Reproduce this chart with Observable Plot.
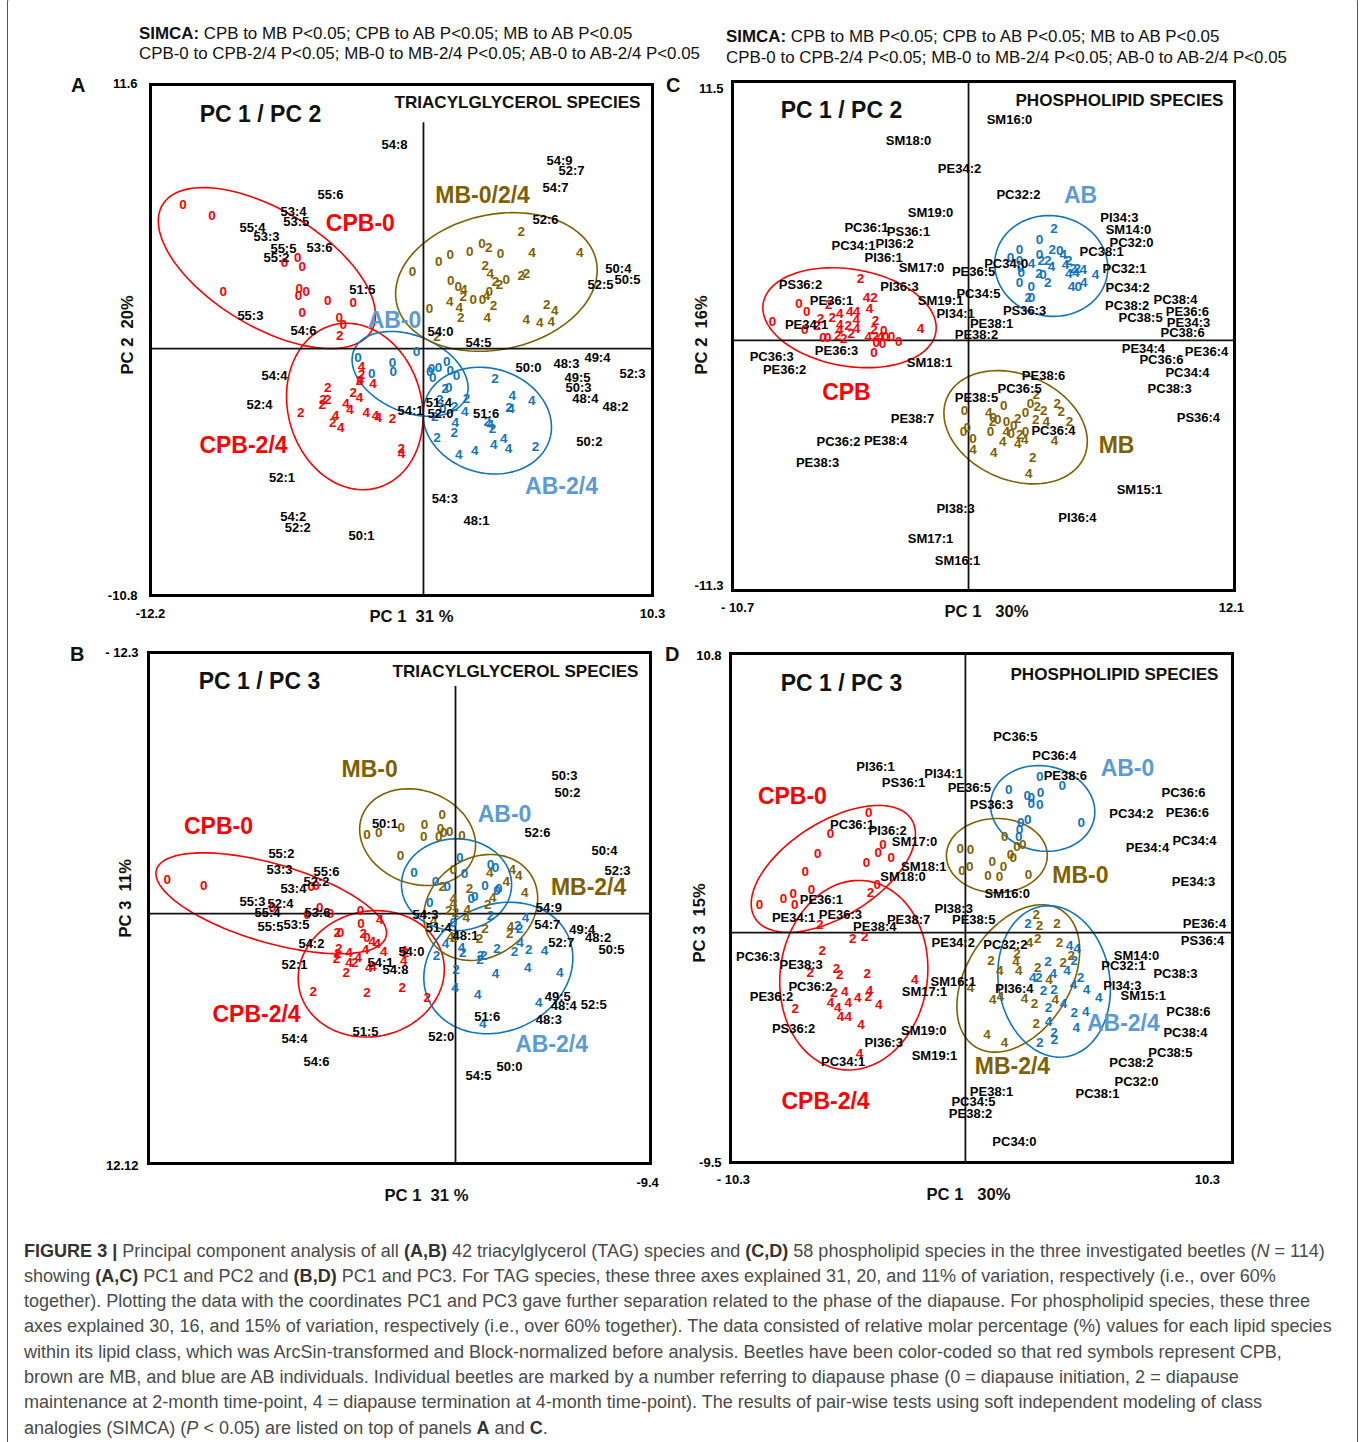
<!DOCTYPE html>
<html><head><meta charset="utf-8">
<script src="https://cdn.jsdelivr.net/npm/d3@7"></script>
<script src="https://cdn.jsdelivr.net/npm/@observablehq/plot@0.6"></script>
<style>
html,body{margin:0;padding:0;background:#fff;font-family:"Liberation Sans",Arial,sans-serif;overflow:hidden}
#page{position:relative;width:1360px;height:1442px;overflow:hidden}
#border{position:absolute;left:7px;top:-6px;width:1351px;height:1470px;border:1px solid #555;border-radius:8px;box-sizing:border-box}
.simca{position:absolute;font-size:16.9px;color:#111;white-space:nowrap}
.letter{position:absolute;font-size:20px;font-weight:bold;color:#111}
#caption{position:absolute;left:24px;top:1238.5px;width:1320px;font-size:18.05px;line-height:25.3px;color:#4a4a4a;white-space:nowrap}
#caption b{color:#333}
.panel{position:absolute}
</style></head><body>
<div id="page">
<div id="border"></div>
<div class="simca" style="left:139px;top:24px;line-height:20px"><b>SIMCA:</b> CPB to MB P&lt;0.05; CPB to AB P&lt;0.05; MB to AB P&lt;0.05<br>CPB-0 to CPB-2/4 P&lt;0.05; MB-0 to MB-2/4 P&lt;0.05; AB-0 to AB-2/4 P&lt;0.05</div>
<div class="simca" style="left:726px;top:26px;line-height:21px"><b>SIMCA:</b> CPB to MB P&lt;0.05; CPB to AB P&lt;0.05; MB to AB P&lt;0.05<br>CPB-0 to CPB-2/4 P&lt;0.05; MB-0 to MB-2/4 P&lt;0.05; AB-0 to AB-2/4 P&lt;0.05</div>
<div class="letter" style="left:71px;top:74px">A</div>
<div class="letter" style="left:70px;top:643px">B</div>
<div class="letter" style="left:666px;top:74px">C</div>
<div class="letter" style="left:665px;top:643px">D</div>
<div id="caption"><b>FIGURE 3 |</b> Principal component analysis of all <b>(A,B)</b> 42 triacylglycerol (TAG) species and <b>(C,D)</b> 58 phospholipid species in the three investigated beetles (<i>N</i> = 114)<br>showing <b>(A,C)</b> PC1 and PC2 and <b>(B,D)</b> PC1 and PC3. For TAG species, these three axes explained 31, 20, and 11% of variation, respectively (i.e., over 60%<br>together). Plotting the data with the coordinates PC1 and PC3 gave further separation related to the phase of the diapause. For phospholipid species, these three<br>axes explained 30, 16, and 15% of variation, respectively (i.e., over 60% together). The data consisted of relative molar percentage (%) values for each lipid species<br>within its lipid class, which was ArcSin-transformed and Block-normalized before analysis. Beetles have been color-coded so that red symbols represent CPB,<br>brown are MB, and blue are AB individuals. Individual beetles are marked by a number referring to diapause phase (0 = diapause initiation, 2 = diapause<br>maintenance at 2-month time-point, 4 = diapause termination at 4-month time-point). The results of pair-wise tests using soft independent modeling of class<br>analogies (SIMCA) (<i>P</i> &lt; 0.05) are listed on top of panels <b>A</b> and <b>C</b>.</div>
</div>
<script>
// ---------- Panel A: TAG, PC1 / PC2. Scores are [phase, PC1, PC2]
const aCPB=[[0,-10.78,6.3],[0,-9.48,5.83],[0,-6.23,3.76],[0,-5.64,4],[0,-5.44,3.57],[0,-8.98,2.5],[0,-5.57,2.64],[0,-5.6,2.32],[0,-5.26,2.5],[0,-4.29,2.1],[0,-3.15,2],[0,-5.44,1.57],[0,-3.78,1.35],[0,-3.6,1.04],[2,-3.75,.57],
[4,-2.78,-.78],[2,-2.78,-1.14],[4,-2.83,-1.36],[2,-2.87,-1.4],[4,-2.26,-1.52],[2,-4.29,-1.72],[2,-4.29,-2.24],[2,-4.5,-2.24],[2,-4.54,-2.46],[2,-3.15,-1.94],[4,-2.87,-2.16],[4,-3.47,-2.4],[4,-3.29,-2.68],[4,-2.57,-2.82],[4,-2.15,-2.94],[4,-2.03,-3.01],[2,-1.39,-3.06],[2,-5.5,-2.82],[4,-3.95,-2.94],[2,-4.07,-3.23],[4,-3.71,-3.48],[2,-1,-4.4],[4,-.99,-4.59]];
const aAB=[[0,-.31,-.12],[0,-2.93,-.41],[0,-1.39,-.61],[0,-1.36,-1],[0,-2.32,-1.11],[0,1.04,-.56],[0,.67,-.82],[0,.36,-.89],[0,.28,-1],[0,.42,-1.26],[0,1.2,-.96],[0,1.48,-1.17],[2,.96,-1.77],[0,1.13,-1.72],[2,.73,-2.24],[2,1.93,-2.21],[4,1.85,-2.75],[2,1.39,-2.57],[0,.87,-2.65],[2,.51,-2.97],[2,3.21,-1.33],[4,3.98,-2.06],[4,4.86,-2.29],[2,3.83,-2.6],[4,3.93,-2.62],[2,2.86,-3.19],[4,3,-3.33],[2,3.09,-3.52],[4,1.43,-3.26],[2,1.38,-3.7],[2,.61,-3.89],[4,1.58,-4.65],[4,2.3,-4.46],[4,3.15,-4.2],[4,3.6,-3.95],[4,3.81,-4.4],[2,5.02,-4.29]];
const aMB=[[2,4.38,5.14],[4,4.87,4.22],[4,7.01,4.21],[0,2.62,4.62],[2,2.93,4.42],[0,3.45,4.18],[0,2.08,4.24],[0,1.2,4.12],[0,.69,3.8],[0,-.49,3.39],[2,2.77,3.63],[4,3,3.28],[2,3.23,2.95],[2,3.41,2.78],[0,3.71,3],[2,4.38,3.19],[2,4.62,3.3],[0,1.22,2.97],[0,1.56,2.73],[4,1.81,2.57],[2,1.78,2.29],[0,2.23,2.16],[0,2.65,2.15],[4,2.83,2.32],[0,2.95,2.51],[2,3.14,1.87],[4,1.18,2.06],[0,.27,1.75],[4,1.61,1.81],[2,1.67,1.37],[4,2.86,1.35],[2,5.53,1.94],[4,5.89,1.67],[4,4.61,1.27],[4,5.21,1.13],[4,5.73,1.2],[2,.61,.5]];
const aSpecies=[["54:8",-1.3,8.95],["54:9",6.1,8.25],["52:7",6.64,7.81],["54:7",5.92,7.06],["52:6",5.47,5.66],["55:6",-4.17,6.75],["53:4",-5.83,6],["53:5",-5.7,5.57],["55:4",-7.67,5.31],["53:3",-7.04,4.91],["55:5",-6.28,4.39],["53:6",-4.66,4.43],["55:2",-6.59,3.99],["51:5",-2.74,2.59],["55:3",-7.76,1.45],["54:6",-5.38,.79],["54:0",.76,.75],["54:5",2.47,.26],["50:4",8.74,3.51],["50:5",9.15,3.03],["52:5",7.94,2.81],["50:0",4.71,-.83],["48:3",6.41,-.66],["49:4",7.8,-.39],["49:5",6.91,-1.27],["50:3",6.95,-1.71],["48:4",7.26,-2.19],["52:3",9.37,-1.1],["48:2",8.61,-2.54],["50:2",7.44,-4.08],["54:4",-6.68,-1.18],["52:4",-7.35,-2.46],["54:1",-.58,-2.72],["51:4",.69,-2.36],["52:0",.76,-2.88],["51:6",2.81,-2.86],["52:1",-6.34,-5.67],["54:3",.96,-6.57],["48:1",2.38,-7.54],["54:2",-5.84,-7.4],["52:2",-5.64,-7.86],["50:1",-2.78,-8.2]];
const aGroups=[["MB-0/2/4",2.65,6.71,"MB"],["CPB-0",-2.83,5.48,"CPB"],["AB-0",-1.3,1.23,"ABL"],["CPB-2/4",-8.07,-4.25,"CPB"],["AB-2/4",6.19,-6.05,"ABL"]];
const aEllipses=[["CPB",-7.02,3.53,4.87,3.53,-.585],["CPB",-3.08,-2.54,3.06,3.65,-.12],["AB",-.6,-1.11,2.6,1.86,-.33],["AB",2.86,-3.16,2.88,2.34,-.12],["MB",3.27,2.92,4.52,3.04,.17]];

// ---------- Panel B: TAG, PC1 / PC3 (both axes as labelled on the picture)
const bCPB=[[0,13.93,-1.61],[0,12.16,-1.34],[0,6.97,-1.29],[0,6.73,-1.34],[0,8.84,-.3],[0,6.56,-.27],[0,7.16,.05],[0,6.04,-.01],[0,4.59,-.14],[4,3.66,.29],[0,4.57,.49],[2,5.71,.89],[0,5.56,.92],[2,4.46,.97],[0,4.27,1.16],[4,4.02,1.34],[4,3.78,1.45],[2,5.64,1.69],[4,4.35,1.72],[4,3.46,1.8],[4,5.15,1.85],[2,5.69,1.93],[2,5.75,2.16],[4,4.7,2.12],[4,5.15,2.36],[2,4.86,2.37],[2,5.28,2.82],[4,4.19,2.6],[4,3.98,2.53],[4,2.5,1.77],[4,2.5,2.25],[2,2.42,1.85],[2,6.87,3.73],[2,4.27,3.79],[2,2.57,3.52],[2,1.37,4.03]];
const bMB=[[0,4.27,-3.77],[0,3.71,-3.86],[0,2.62,-4.08],[0,2.66,-2.77],[0,1.5,-4.25],[0,1.53,-3.69],[0,.64,-4.73],[0,.72,-4.05],[0,.81,-3.69],[0,.57,-3.88],[0,.28,-3.93],[0,-.32,-3.73],[0,.11,-2.09],[4,-1.66,-1.94],[4,-2.74,-2.09],[4,-3.06,-1.82],[4,-2.45,-1.53],[4,-3.35,-.99],[2,.64,-1.29],[2,-.68,-1.18],[4,-1.8,-.75],[2,-1.56,-.42],[4,.11,-.7],[4,.11,-.46],[2,.32,-.14],[2,0,-.06],[4,-.57,-.19],[4,-.52,.21],[2,-1.42,.73],[2,-1.16,1.21],[4,-2.66,.65],[2,-2.62,.94],[4,.24,1.1],[2,.08,1.13],[4,1.05,.33]];
const bAB=[[0,-.21,-2.66],[0,-.43,-1.9],[0,-1.69,-2.33],[0,-1.93,-2.18],[0,2.01,-1.97],[0,.97,-1.54],[0,.4,-1.29],[0,-1.42,-1.34],[0,-2.09,-1.18],[0,-2.01,-1.1],[0,-.93,-.83],[0,-.76,-.7],[0,1.24,-.54],[0,.11,.42],[2,-1.69,.1],[4,-3.38,.22],[2,-3.01,.57],[2,-3.09,.73],[4,.48,1.45],[4,-3.11,1.37],[2,.92,2.01],[4,-.29,1.64],[2,-.35,1.85],[2,-2.01,1.66],[2,-2.85,1.82],[2,-3.54,1.72],[4,-4.3,1.77],[2,-1.21,2.01],[2,-1.37,2.01],[2,-1.18,2.2],[2,-.03,2.69],[4,-1.93,2.88],[4,-3.49,2.59],[4,-5.04,2.83],[4,.03,3.52],[4,-1.08,3.87],[4,-4.02,4.24],[4,-1.32,5.27]];
const bSpecies=[["50:3",-5.27,-6.59],["50:2",-5.41,-5.78],["52:6",-3.96,-3.87],["50:4",-7.2,-3.01],["52:3",-7.83,-2.05],["50:1",3.41,-4.29],["55:2",8.41,-2.87],["53:3",8.5,-2.1],["55:6",6.23,-2.01],["52:2",6.71,-1.53],["53:4",7.83,-1.19],["55:3",9.81,-.57],["52:4",8.45,-.48],["55:4",9.08,-.05],["53:6",6.67,-.05],["55:5",8.94,.62],["53:5",7.68,.53],["54:2",6.96,1.43],["52:1",7.78,2.44],["54:0",2.13,1.82],["54:1",3.62,2.36],["54:8",2.9,2.68],["54:4",7.78,5.97],["51:5",4.35,5.64],["54:6",6.71,7.07],["54:3",1.45,.06],["51:4",.81,.68],["48:1",-.48,1.05],["54:9",-4.51,-.27],["54:7",-4.43,.53],["52:7",-5.11,1.42],["49:4",-6.12,.76],["48:2",-6.89,1.18],["50:5",-7.54,1.72],["49:5",-4.94,3.97],["48:4",-5.23,4.4],["52:5",-6.68,4.35],["48:3",-4.51,5.08],["51:6",-1.53,4.92],["52:0",.69,5.88],["54:5",-1.11,7.74],["50:0",-2.61,7.31]];
const bGroups=[["MB-0",4.15,-6.88,"MB"],["AB-0",-2.37,-4.73,"ABL"],["CPB-0",11.45,-4.16,"CPB"],["MB-2/4",-6.43,-1.24,"MB"],["CPB-2/4",9.61,4.83,"CPB"],["AB-2/4",-4.64,6.26,"ABL"]];
const bEllipses=[["CPB",8.9,-.49,5.57,2.41,-.59],["CPB",4.07,2.88,3.53,3.02,.07],["MB",1.83,-3.65,2.8,2.31,-.16],["AB",-.05,-1.38,2.66,2.19,0],["MB",-1.22,-.29,2.75,2.53,.17],["AB",-2.07,2.6,3.6,3.14,.15]];

// ---------- Panel C: phospholipids, PC1 / PC2
const cCPB=[[2,-4.91,2.77],[4,-4.64,1.94],[2,-4.3,1.94],[4,-4.5,1.42],[0,-7.71,1.67],[2,-6.35,1.61],[0,-7.36,1.29],[4,-5.4,1.3],[4,-5.09,1.3],[4,-5.86,1.2],[2,-6.2,1.02],[0,-8.91,.82],[2,-6.73,.97],[4,-5.1,.93],[2,-4.23,.87],[0,-7.45,.49],[2,-6.88,.67],[4,-5.86,.72],[2,-5.47,.67],[4,-5.09,.55],[2,-4.3,.49],[4,-5.86,.48],[2,-5.33,.3],[0,-6.62,.12],[0,-6.4,.12],[2,-5.94,.22],[2,-5.67,.1],[0,-3.85,.42],[4,-4.56,.15],[2,-4.23,.15],[4,-4,.15],[0,-3.77,.15],[0,-3.5,.15],[0,-3.17,-.04],[0,-4.2,-.1],[0,-3.91,-.15],[0,-4.3,-.55],[4,-2.18,.52]];
const cAB=[[2,3.88,5.01],[0,3.23,4.53],[0,2.32,4.08],[2,3.8,4.07],[0,4.15,4.04],[0,3.23,3.86],[4,4.3,3.86],[2,4.56,3.56],[0,1.91,3.71],[0,2.32,3.56],[4,2.86,3.44],[2,3.3,3.56],[2,3.6,3.56],[4,3.77,3.32],[4,4.41,3.41],[2,4.94,3.22],[4,5.21,3.17],[2,4.76,3.22],[4,4.56,2.99],[4,4.88,3.02],[0,2.4,3.06],[0,2.36,3.26],[2,3.2,2.99],[0,3.38,2.95],[2,3.6,2.59],[0,2.32,2.57],[4,5.77,2.95],[4,5.24,2.6],[4,4.68,2.39],[0,4.99,2.42],[0,2.85,2.39],[2,2.71,1.9],[0,2.86,1.9]];
const cMB=[[2,3.08,-2.44],[0,1.6,-2.91],[0,2.82,-2.84],[2,3.12,-2.96],[0,-.18,-3.14],[4,.92,-3.22],[2,3.42,-3.17],[2,4.03,-2.84],[2,4.21,-3.18],[0,2.59,-3.22],[2,2.24,-3.51],[2,3.05,-3.56],[4,3.53,-3.62],[2,4.59,-3.62],[0,1.12,-3.44],[2,1.09,-3.62],[0,1.33,-3.56],[0,1.73,-3.62],[0,2.06,-3.81],[0,-.06,-3.89],[0,-.23,-4.07],[0,1,-4.11],[4,1.71,-4.11],[0,1.94,-4.18],[2,2.33,-4.22],[0,2.59,-4.11],[4,2.55,-4.45],[4,2.24,-4.63],[4,1.55,-4.53],[4,3.91,-4.48],[0,.2,-4.41],[4,.2,-4.9],[4,1.15,-5.05],[2,2.92,-5.26],[4,2.74,-5.98]];
const cSpecies=[["SM16:0",1.86,9.87],["SM18:0",-2.73,8.97],["PE34:2",-.41,7.71],["PC32:2",2.27,6.55],["SM19:0",-1.73,5.7],["PC36:1",-4.64,5.07],["PS36:1",-2.73,4.89],["PC34:1",-5.23,4.26],["PI36:2",-3.36,4.35],["PI36:1",-3.86,3.72],["SM17:0",-2.14,3.27],["PE36:5",.23,3.09],["PS36:2",-7.64,2.51],["PI36:3",-3.14,2.42],["PE36:1",-6.23,1.79],["SM19:1",-1.27,1.79],["PC34:0",1.71,3.44],["PC34:5",.45,2.11],["PS36:3",2.55,1.35],["PI34:1",-.59,1.21],["PE34:1",-7.36,.72],["PE38:1",1.05,.76],["PE38:2",.36,.27],["PE36:3",-6,-.45],["PC36:3",-8.95,-.72],["PE36:2",-8.36,-1.3],["SM18:1",-1.77,-.99],["PI34:3",6.86,5.52],["SM14:0",7.27,4.98],["PC32:0",7.41,4.39],["PC38:1",6.05,3.99],["PC32:1",7.09,3.23],["PC34:2",7.23,2.38],["PC38:2",7.21,1.54],["PC38:4",9.41,1.84],["PE36:6",9.95,1.3],["PC38:5",7.82,1.03],["PE34:3",10,.81],["PC38:6",9.73,.36],["PE34:4",7.95,-.36],["PE36:4",10.82,-.49],["PC36:6",8.77,-.85],["PC34:4",9.95,-1.43],["PC38:3",9.14,-2.15],["PS36:4",10.45,-3.45],["PE38:6",3.41,-1.57],["PC36:5",2.32,-2.15],["PE38:5",.36,-2.56],["PE38:7",-2.55,-3.5],["PC36:2",-5.91,-4.53],["PE38:4",-3.77,-4.48],["PE38:3",-6.86,-5.47],["PC36:4",3.86,-4.04],["SM15:1",7.77,-6.68],["PI38:3",-.59,-7.53],["PI36:4",4.95,-7.94],["SM17:1",-1.73,-8.88],["SM16:1",-.5,-9.87]];
const cGroups=[["AB",5.09,6.5,"ABL"],["CPB",-5.55,-2.33,"CPB"],["MB",6.73,-4.71,"MB"]];
const cEllipses=[["CPB",-5.41,1.02,3.94,2.24,-.2],["AB",3.76,3.34,2.57,2.26,-.04],["MB",2.14,-3.89,3.26,2.54,-.25]];

// ---------- Panel D: phospholipids, PC1 / PC3
const dCPB=[[0,-3.97,4.77],[0,-5.54,3.94],[0,-3.38,3.5],[0,-3.58,3.2],[0,-3.04,3],[0,-6.06,3.14],[0,-4.06,2.78],[0,-6.57,2.43],[0,-3.62,1.91],[0,-6.32,1.72],[2,-3.9,1.58],[0,-7.07,1.54],[0,-7.46,1.37],[0,-8.45,1.12],[0,-7,1.12],[2,-5.98,.31],[2,-4.62,-.23],[2,-4.13,-.15],[2,-5.88,-.72],[2,-6.37,-1.58],[2,-5.29,-1.45],[2,-5.16,-1.69],[2,-4.03,-1.65],[4,-2.08,-1.87],[4,-3.94,-2.31],[2,-3.99,-2.55],[2,-5.39,-2.38],[4,-4.95,-2.35],[4,-5.54,-2.8],[4,-4.81,-2.78],[4,-4.42,-2.6],[4,-3.56,-2.88],[4,-5.24,-3],[2,-6.98,-3.04],[4,-5.13,-3.35],[4,-4.81,-3.35],[4,-4.28,-3.66],[4,-4.35,-4.84]];
const dAB=[[0,3.05,6.22],[0,3.97,5.86],[0,1.78,5.69],[0,3.08,5.57],[0,2.54,5.44],[0,2.7,5.4],[0,2.7,5.16],[0,3.05,5.11],[0,2.56,4.5],[0,2.27,4.4],[0,4.75,4.38],[0,2.22,4.1],[0,2.19,3.83],[2,2.57,.35],[4,4.27,-.52],[4,4.58,-.65],[2,4.47,-1.12],[2,3.39,-1.16],[4,4.17,-1.52],[4,3.6,-1.65],[2,4.72,-1.81],[4,2.76,-1.78],[2,3.01,-1.78],[4,4.44,-2.07],[2,3.64,-2.27],[2,3.2,-2.31],[4,4.97,-2.27],[4,5.47,-2.6],[4,4.03,-2.84],[2,3.41,-2.98],[2,4.47,-3.2],[4,4.94,-3.14],[4,3.41,-3.54],[4,4.55,-3.8],[2,3.64,-4],[2,3.66,-4.28],[2,3.05,-4.41]];
const dMB=[[0,1.61,3.84],[0,2.12,3.44],[0,2.35,3.51],[0,1.85,3.1],[0,1.96,2.98],[0,-.21,3.34],[0,.21,3.31],[0,1.1,2.84],[0,.18,2.64],[0,-.14,2.45],[0,.93,2.25],[0,2.59,2.31],[0,1.4,2.23],[0,1.56,2.63],[2,2.91,.72],[2,3.04,.28],[2,3.76,.35],[2,2.97,-.23],[4,2.63,-.39],[2,3.86,-.39],[2,1.05,-1.14],[2,2.12,-.85],[4,2.08,-1.18],[4,1.41,-1.52],[4,2.19,-1.52],[2,2.97,-1.41],[2,4.01,-1.22],[2,4.34,-.92],[4,3.43,-1.89],[4,.21,-2.18],[4,1.12,-2.67],[4,1.44,-2.55],[4,2.42,-2.64],[2,2.83,-2.82],[4,3.69,-2.68],[2,2.91,-3.64],[4,.89,-4.08],[4,1.6,-4.41]];
const dSpecies=[["PC36:5",2.05,7.82],["PC36:4",3.65,7.06],["PE38:6",4.1,6.26],["PI36:1",-3.69,6.62],["PS36:1",-2.54,5.98],["PI34:1",-.9,6.34],["PE36:5",.16,5.78],["PS36:3",1.07,5.11],["PC36:6",8.95,5.58],["PC34:2",6.81,4.75],["PE36:6",9.11,4.79],["PE34:4",7.47,3.39],["PC34:4",9.4,3.67],["PE34:3",9.36,2.03],["PC36:1",-4.65,4.3],["PI36:2",-3.19,4.06],["SM17:0",-2.09,3.6],["SM18:1",-1.71,2.64],["SM18:0",-2.56,2.23],["SM16:0",1.72,1.56],["PE36:1",-5.91,1.32],["PE34:1",-7.05,.57],["PE36:3",-5.13,.69],["PE38:4",-3.72,.21],["PE38:7",-2.33,.52],["PI38:3",-.48,.96],["PE38:5",.34,.52],["PE34:2",-.5,-.41],["PC32:2",1.64,-.48],["PC36:3",-8.51,-.95],["PE38:3",-6.74,-1.28],["SM14:0",7.02,-.92],["PC32:1",6.48,-1.32],["PC38:3",8.62,-1.64],["PE36:4",9.81,.36],["PS36:4",9.73,-.32],["PC36:2",-6.36,-2.15],["PE36:2",-7.96,-2.55],["SM16:1",-.5,-1.95],["SM17:1",-1.68,-2.37],["PI36:4",2.01,-2.23],["PI34:3",6.44,-2.11],["SM15:1",7.3,-2.51],["PC38:6",9.15,-3.15],["PC38:4",9.03,-3.99],["PS36:2",-7.05,-3.84],["SM19:0",-1.71,-3.91],["PI36:3",-3.35,-4.39],["PC34:1",-5.02,-5.15],["SM19:1",-1.27,-4.92],["PC38:5",8.41,-4.79],["PC38:2",6.81,-5.19],["PC32:0",7.02,-5.94],["PC38:1",5.42,-6.42],["PE38:1",1.07,-6.34],["PC34:5",.33,-6.74],["PE38:2",.21,-7.22],["PC34:0",2.01,-8.34]];
const dGroups=[["CPB-0",-7.1,5.42,"CPB"],["AB-0",6.65,6.54,"ABL"],["MB-0",4.72,2.27,"MB"],["AB-2/4",6.48,-3.63,"ABL"],["MB-2/4",1.93,-5.35,"MB"],["CPB-2/4",-5.74,-6.74,"CPB"]];
const dEllipses=[["CPB",-5.42,2.54,3.37,2.53,.55],["CPB",-4.58,-1.7,3.04,3.78,.07],["AB",3.17,4.95,2.14,1.71,-.08],["MB",1.29,3.07,2.07,1.48,0],["MB",2.17,-1.83,2.52,2.94,.38],["AB",3.64,-1.95,2.31,3.02,-.1]];

const ink={CPB:"#ff0000",MB:"#7f6000",AB:"#0f75bd",ABL:"#5b9bd5"};
const FONT='"Liberation Sans",Arial,sans-serif';

function ellipsePath(e,i){
  const [g,cx,cy,hx,hy,r]=e, out=[], q=Math.sqrt(1-r*r);
  for(let k=0;k<=120;k++){const t=k/120*2*Math.PI;
    out.push({id:i,g,x:cx+hx*Math.cos(t),y:cy+hy*(r*Math.cos(t)+q*Math.sin(t))});}
  return out;
}
const digits=(arr,g)=>arr.map(d=>({g,t:String(d[0]),x:d[1],y:d[2]}));

function panel(o){
  const scores=[...digits(o.cpb,"CPB"),...digits(o.mb,"MB"),...digits(o.ab,"AB")];
  const ell=o.ellipses.flatMap(ellipsePath);
  const sp=o.species.map(d=>({t:d[0],x:d[1],y:d[2]}));
  const gr=o.groups.map(d=>({t:d[0],x:d[1],y:d[2],g:d[3]}));
  const mL=70,mR=36,mT=24,mB=50;
  const chart=Plot.plot({
    width:o.w+mL+mR,height:o.h+mT+mB,marginLeft:mL,marginRight:mR,marginTop:mT,marginBottom:mB,
    x:{domain:o.xd},y:{domain:o.yd},color:{type:"identity"},
    style:{background:"transparent",fontFamily:FONT,overflow:"visible"},
    marks:[
      Plot.line(ell,{x:"x",y:"y",z:"id",stroke:d=>ink[d.g],strokeWidth:1.6,curve:"linear"}),
      Plot.ruleX([0],{y1:o.vy[0],y2:o.vy[1],stroke:"#111",strokeWidth:1.8}),
      Plot.ruleY([0],{stroke:"#111",strokeWidth:1.8}),
      Plot.frame({stroke:"#000",strokeWidth:3}),
      Plot.text(scores,{x:"x",y:"y",text:"t",fill:d=>ink[d.g],fontSize:13.5,fontWeight:"bold"}),
      Plot.text(sp,{x:"x",y:"y",text:"t",fill:"#000",fontSize:13,fontWeight:"bold"}),
      Plot.text(gr,{x:"x",y:"y",text:"t",fill:d=>ink[d.g],fontSize:23,fontWeight:"bold"}),
      Plot.axisX(o.xt,{anchor:"bottom",tickSize:0,tickPadding:o.xPad,label:null,fontSize:13,fontWeight:"bold",fill:"#000",tickFormat:d=>o.xl[o.xt.indexOf(d)]}),
      Plot.axisY(o.yt,{anchor:"left",tickSize:0,tickPadding:o.yPad,label:null,fontSize:13,fontWeight:"bold",fill:"#000",tickFormat:d=>o.yl[o.yt.indexOf(d)]}),
      Plot.text([o.title],{frameAnchor:"top-left",dx:o.tp[0],dy:o.tp[1],fontSize:23,fontWeight:"bold",fill:"#111",textAnchor:"middle"}),
      Plot.text([o.kind],{frameAnchor:"top-right",dx:o.kp[0],dy:o.kp[1],fontSize:17.1,fontWeight:"bold",fill:"#111",textAnchor:"end"}),
      Plot.text([o.xLab],{frameAnchor:"bottom-left",dx:o.xp[0],dy:o.xp[1],fontSize:16.6,fontWeight:"bold",fill:"#111"}),
      Plot.text([o.yLab],{frameAnchor:"top-left",dx:o.yp[0],dy:o.yp[1],fontSize:16.6,fontWeight:"bold",fill:"#111",rotate:-90})
    ]
  });
  chart.classList.add("panel");
  chart.style.left=(o.left-mL)+"px"; chart.style.top=(o.top-mT)+"px";
  chart.style.maxWidth="none";
  document.getElementById("page").appendChild(chart);
}

const tag="TRIACYLGLYCEROL SPECIES", pl="PHOSPHOLIPID SPECIES";
panel({left:150,top:84,w:502,h:511,xd:[-12.24,10.27],yd:[-10.83,11.58],vy:[-10.83,9.9],
  xt:[-12.24,10.27],xl:["-12.2","10.3"],yt:[11.6,-10.85],yl:["11.6","-10.8"],xPad:13,yPad:13,
  cpb:aCPB,mb:aMB,ab:aAB,species:aSpecies,groups:aGroups,ellipses:aEllipses,
  title:"PC 1 / PC 2",tp:[110,21],kind:tag,kp:[-12,11],xLab:"PC 1\u00a0\u00a031 %",xp:[219,26],yLab:"PC 2\u00a0\u00a020%",yp:[-29,290]});
panel({left:148,top:652,w:502,h:511,xd:[14.83,-9.42],yd:[11.94,-12.47],vy:[11.94,-10.85],
  xt:[-9.28],xl:["-9.4"],yt:[-12.47,12.04],yl:["- 12.3","12.12"],xPad:14,yPad:10,
  cpb:bCPB,mb:bMB,ab:bAB,species:bSpecies,groups:bGroups,ellipses:bEllipses,
  title:"PC 1 / PC 3",tp:[111,20],kind:tag,kp:[-12,12],xLab:"PC 1\u00a0\u00a031 %",xp:[236,37],yLab:"PC 3\u00a0\u00a011%",yp:[-29,285]});
panel({left:732,top:81,w:502,h:509,xd:[-10.73,12.09],yd:[-11.21,11.61],vy:[-11.21,11.61],
  xt:[-10.5,11.95],xl:["- 10.7","12.1"],yt:[11.26,-10.99],yl:["11.5","-11.3"],xPad:12,yPad:9,
  cpb:cCPB,mb:cMB,ab:cAB,species:cSpecies,groups:cGroups,ellipses:cEllipses,
  title:"PC 1 / PC 2",tp:[109,20],kind:pl,kp:[-11,12],xLab:"PC 1\u00a0\u00a0\u00a030%",xp:[212,26],yLab:"PC 2\u00a0\u00a016%",yp:[-37,293]});
panel({left:730,top:653,w:502,h:509,xd:[-9.64,10.96],yd:[-9.17,11.13],vy:[-9.17,11.13],
  xt:[-9.52,9.93],xl:["- 10.3","10.3"],yt:[11.05,-9.17],yl:["10.8","-9.5"],xPad:12,yPad:9,
  cpb:dCPB,mb:dMB,ab:dAB,species:dSpecies,groups:dGroups,ellipses:dEllipses,
  title:"PC 1 / PC 3",tp:[111,21],kind:pl,kp:[-14,14],xLab:"PC 1\u00a0\u00a0\u00a030%",xp:[196,37],yLab:"PC 3\u00a0\u00a015%",yp:[-37,309]});
</script>
</body></html>
